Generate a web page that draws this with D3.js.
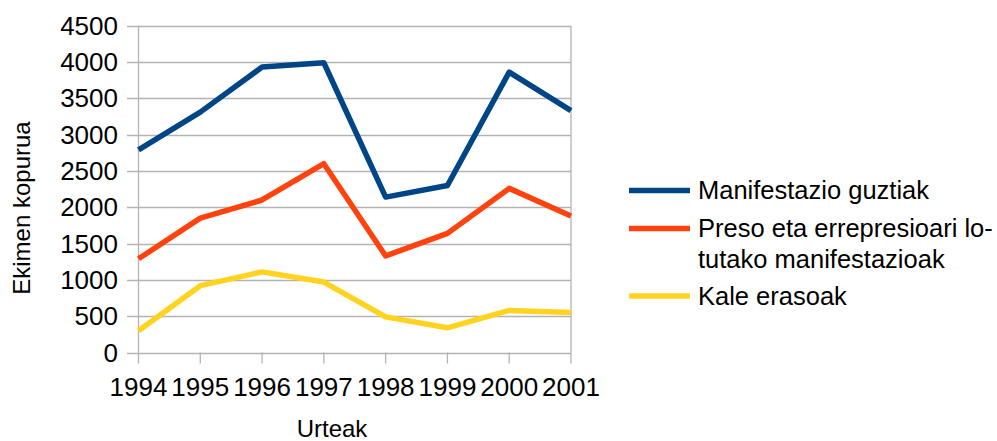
<!DOCTYPE html>
<html>
<head>
<meta charset="utf-8">
<script src="https://cdn.jsdelivr.net/npm/d3@7"></script>
<style>
  html, body { margin: 0; padding: 0; background: #fff; }
  svg text { font-family: "Liberation Sans", Arial, sans-serif; fill: #000; }
</style>
</head>
<body>
<svg id="chart" width="997" height="441"></svg>
<script>
// ── Data ──────────────────────────────────────────────────────────────
const years = [1994, 1995, 1996, 1997, 1998, 1999, 2000, 2001];
const manifestazioGuztiak = [2790, 3310, 3930, 3990, 2140, 2300, 3860, 3330];
const presoManifestazioak = [1290, 1850, 2100, 2600, 1330, 1640, 2260, 1880];
const kaleErasoak         = [300, 920, 1110, 970, 490, 340, 580, 550];
const yTicks = [0, 500, 1000, 1500, 2000, 2500, 3000, 3500, 4000, 4500];

const series = [
  { name: ['Manifestazio guztiak'], values: manifestazioGuztiak, color: '#004586' },
  { name: ['Preso eta errepresioari lo-', 'tutako manifestazioak'], values: presoManifestazioak, color: '#ff420e' },
  { name: ['Kale erasoak'], values: kaleErasoak, color: '#ffd320' },
];

// ── Layout ────────────────────────────────────────────────────────────
const FONT = 26;
const LEGEND_FONT = 25.5;
const TITLE_FONT = 24;
const GRID = '#b3b3b3';
const svg = d3.select('#chart');

const x = d3.scalePoint().domain(years).range([138.5, 571]);
const y = d3.scaleLinear().domain([0, 4500]).range([352.5, 25.7]);

const g = svg.append('g');

// Horizontal gridlines
g.selectAll('line.grid').data(yTicks).join('line')
  .attr('class', 'grid')
  .attr('x1', 127).attr('x2', 571)
  .attr('y1', d => Math.round(y(d)) + 0.5).attr('y2', d => Math.round(y(d)) + 0.5)
  .attr('stroke', GRID).attr('stroke-width', 1.3);

// Right frame + left axis
[138.5, 571].forEach(xx => {
  g.append('line')
    .attr('x1', xx).attr('x2', xx)
    .attr('y1', y(4500)).attr('y2', y(0))
    .attr('stroke', GRID).attr('stroke-width', 1.3);
});

// X tick marks
g.selectAll('line.xtick').data(years).join('line')
  .attr('x1', d => x(d)).attr('x2', d => x(d))
  .attr('y1', y(0)).attr('y2', y(0) + 11)
  .attr('stroke', GRID).attr('stroke-width', 1.3);

// Y tick labels
g.selectAll('text.ylab').data(yTicks).join('text')
  .attr('x', 118).attr('y', d => y(d))
  .attr('dy', '0.35em')
  .attr('text-anchor', 'end')
  .attr('font-size', FONT)
  .text(d => d);

// X tick labels
g.selectAll('text.xlab').data(years).join('text')
  .attr('x', d => x(d)).attr('y', 396)
  .attr('text-anchor', 'middle')
  .attr('font-size', FONT)
  .text(d => d);

// Axis titles
svg.append('text')
  .attr('x', 332).attr('y', 437)
  .attr('text-anchor', 'middle')
  .attr('font-size', TITLE_FONT)
  .text('Urteak');

svg.append('text')
  .attr('transform', 'translate(30,208) rotate(-90)')
  .attr('text-anchor', 'middle')
  .attr('font-size', TITLE_FONT)
  .text('Ekimen kopurua');

// ── Lines ─────────────────────────────────────────────────────────────
const line = d3.line().x((d, i) => x(years[i])).y(d => y(d));
series.forEach(s => {
  g.append('path')
    .attr('d', line(s.values))
    .attr('fill', 'none')
    .attr('stroke', s.color)
    .attr('stroke-width', 5.5)
    .attr('stroke-linejoin', 'round');
});

// ── Legend ────────────────────────────────────────────────────────────
const legendY = [190.5, 228.5, 296];
const legend = svg.append('g');
series.forEach((s, i) => {
  legend.append('line')
    .attr('x1', 629).attr('x2', 690)
    .attr('y1', legendY[i]).attr('y2', legendY[i])
    .attr('stroke', s.color).attr('stroke-width', 5.5);
  s.name.forEach((t, j) => {
    legend.append('text')
      .attr('x', 698).attr('y', legendY[i] + j * 31)
      .attr('dy', '0.35em')
      .attr('font-size', LEGEND_FONT)
      .text(t);
  });
});
</script>
</body>
</html>
